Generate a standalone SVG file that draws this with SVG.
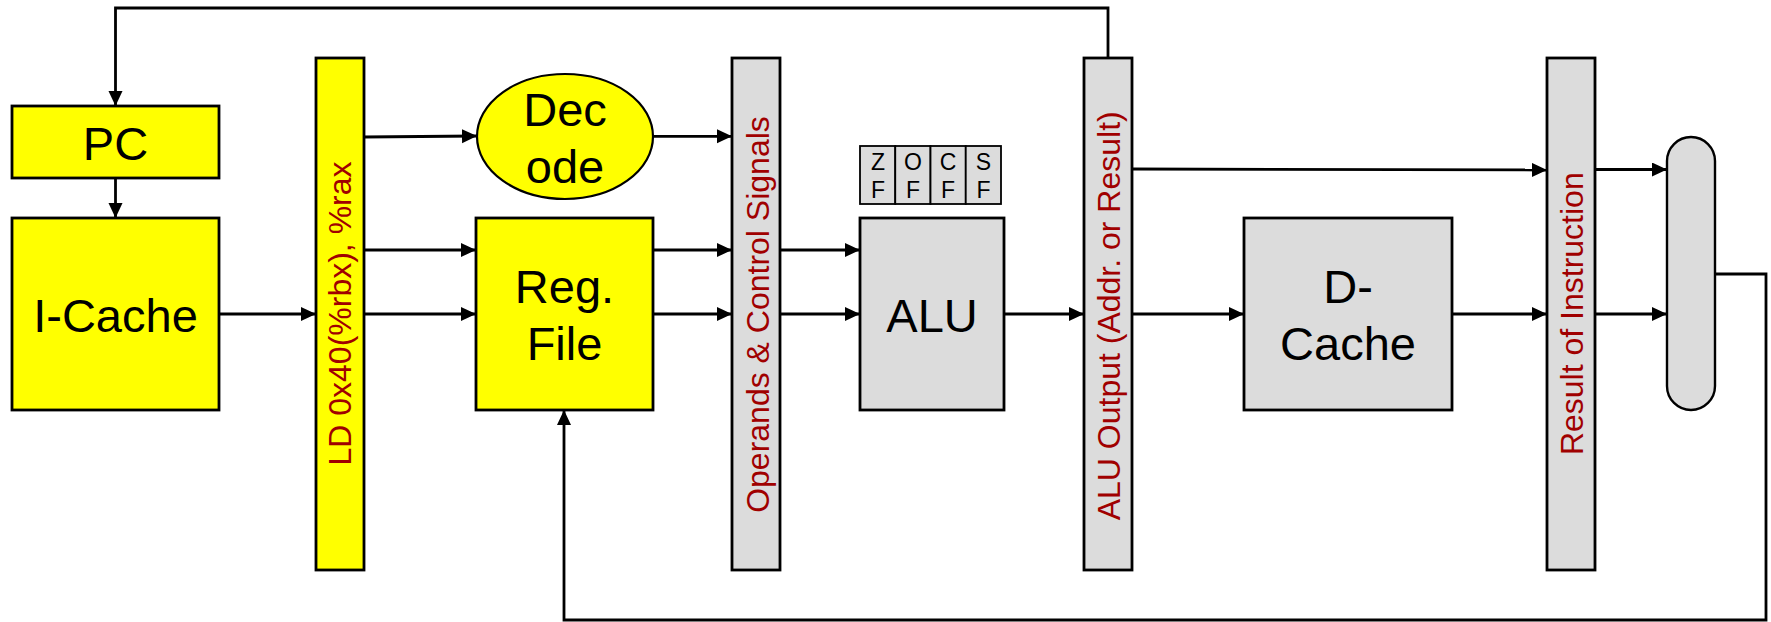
<svg xmlns="http://www.w3.org/2000/svg" width="1771" height="622" viewBox="0 0 1771 622">
<style>
.y{fill:#ffff00;stroke:#000;stroke-width:2.8}
.g{fill:#dcdcdc;stroke:#000;stroke-width:2.8}
.fc{fill:#dcdcdc;stroke:#000;stroke-width:1.8}
.big{font-family:"Liberation Sans",Arial,sans-serif;font-size:47px;text-anchor:middle;fill:#000}
.v{font-family:"Liberation Sans",Arial,sans-serif;font-size:32px;text-anchor:middle;fill:#a00000}
.f{font-family:"Liberation Sans",Arial,sans-serif;font-size:23px;text-anchor:middle;fill:#000}
.c{fill:none;stroke:#000;stroke-width:2.8}
.ca{fill:none;stroke:#000;stroke-width:2.8;marker-end:url(#ah)}
</style>
<defs>
<marker id="ah" markerUnits="userSpaceOnUse" markerWidth="16" markerHeight="15" refX="15" refY="7" orient="auto">
<path d="M0,0 L15,7 L0,14 z" fill="#000"/>
</marker>
</defs>
<g id="connectors">
<polyline class="ca" points="1108,58 1108,8 115.5,8 115.5,106"/>
<line class="ca" x1="115.5" y1="178" x2="115.5" y2="218"/>
<line class="ca" x1="219" y1="314" x2="316" y2="314"/>
<line class="ca" x1="364" y1="137" x2="477" y2="136"/>
<line class="ca" x1="364" y1="250" x2="476" y2="250"/>
<line class="ca" x1="364" y1="314" x2="476" y2="314"/>
<line class="ca" x1="653" y1="136.3" x2="732" y2="136.3"/>
<line class="ca" x1="653" y1="250" x2="732" y2="250"/>
<line class="ca" x1="653" y1="314" x2="732" y2="314"/>
<line class="ca" x1="780" y1="250" x2="860" y2="250"/>
<line class="ca" x1="780" y1="314" x2="860" y2="314"/>
<line class="ca" x1="1004" y1="314" x2="1084" y2="314"/>
<line class="ca" x1="1132" y1="169" x2="1547" y2="170"/>
<line class="ca" x1="1132" y1="314" x2="1244" y2="314"/>
<line class="ca" x1="1452" y1="314" x2="1547" y2="314"/>
<line class="ca" x1="1595" y1="169.5" x2="1667" y2="169.5"/>
<line class="ca" x1="1595" y1="314" x2="1667" y2="314"/>
<polyline class="ca" points="1715,274 1766,274 1766,620 564,620 564,410"/>
</g>
<g id="pc"><rect class="y" x="12" y="106" width="207" height="72"/><text class="big" x="115.5" y="160">PC</text></g>
<g id="icache"><rect class="y" x="12" y="218" width="207" height="192"/><text class="big" x="115.5" y="332">I-Cache</text></g>
<g id="ifid"><rect class="y" x="316" y="58" width="48" height="512"/><text class="v" transform="translate(351.3,313.5) rotate(-90)">LD 0x40(%rbx), %rax</text></g>
<g id="decode"><ellipse class="y" cx="565" cy="136.5" rx="88" ry="62.5" style="stroke-width:2.2"/><text class="big" x="565" y="126">Dec</text><text class="big" x="565" y="183">ode</text></g>
<g id="regfile"><rect class="y" x="476" y="218" width="177" height="192"/><text class="big" x="564.5" y="303">Reg.</text><text class="big" x="564.5" y="360">File</text></g>
<g id="idex"><rect class="g" x="732" y="58" width="48" height="512"/><text class="v" transform="translate(768.5,314.5) rotate(-90)">Operands &amp; Control Signals</text></g>
<g id="flags">
<rect class="fc" x="860" y="146" width="35.25" height="58"/>
<rect class="fc" x="895.25" y="146" width="35.25" height="58"/>
<rect class="fc" x="930.5" y="146" width="35.25" height="58"/>
<rect class="fc" x="965.75" y="146" width="35.25" height="58"/>
<text class="f" x="878" y="169.5">Z</text><text class="f" x="878" y="198">F</text>
<text class="f" x="913" y="169.5">O</text><text class="f" x="913" y="198">F</text>
<text class="f" x="948" y="169.5">C</text><text class="f" x="948" y="198">F</text>
<text class="f" x="983.5" y="169.5">S</text><text class="f" x="983.5" y="198">F</text>
</g>
<g id="alu"><rect class="g" x="860" y="218" width="144" height="192"/><text class="big" x="932" y="332">ALU</text></g>
<g id="exmem"><rect class="g" x="1084" y="58" width="48" height="512"/><text class="v" transform="translate(1120.4,315.8) rotate(-90)">ALU Output (Addr. or Result)</text></g>
<g id="dcache"><rect class="g" x="1244" y="218" width="208" height="192"/><text class="big" x="1348" y="303">D-</text><text class="big" x="1348" y="360">Cache</text></g>
<g id="memwb"><rect class="g" x="1547" y="58" width="48" height="512"/><text class="v" transform="translate(1583.3,313.7) rotate(-90)">Result of Instruction</text></g>
<g id="mux"><rect class="g" x="1667" y="137" width="48" height="273" rx="24" ry="24" style="stroke-width:2.4"/></g>
</svg>
